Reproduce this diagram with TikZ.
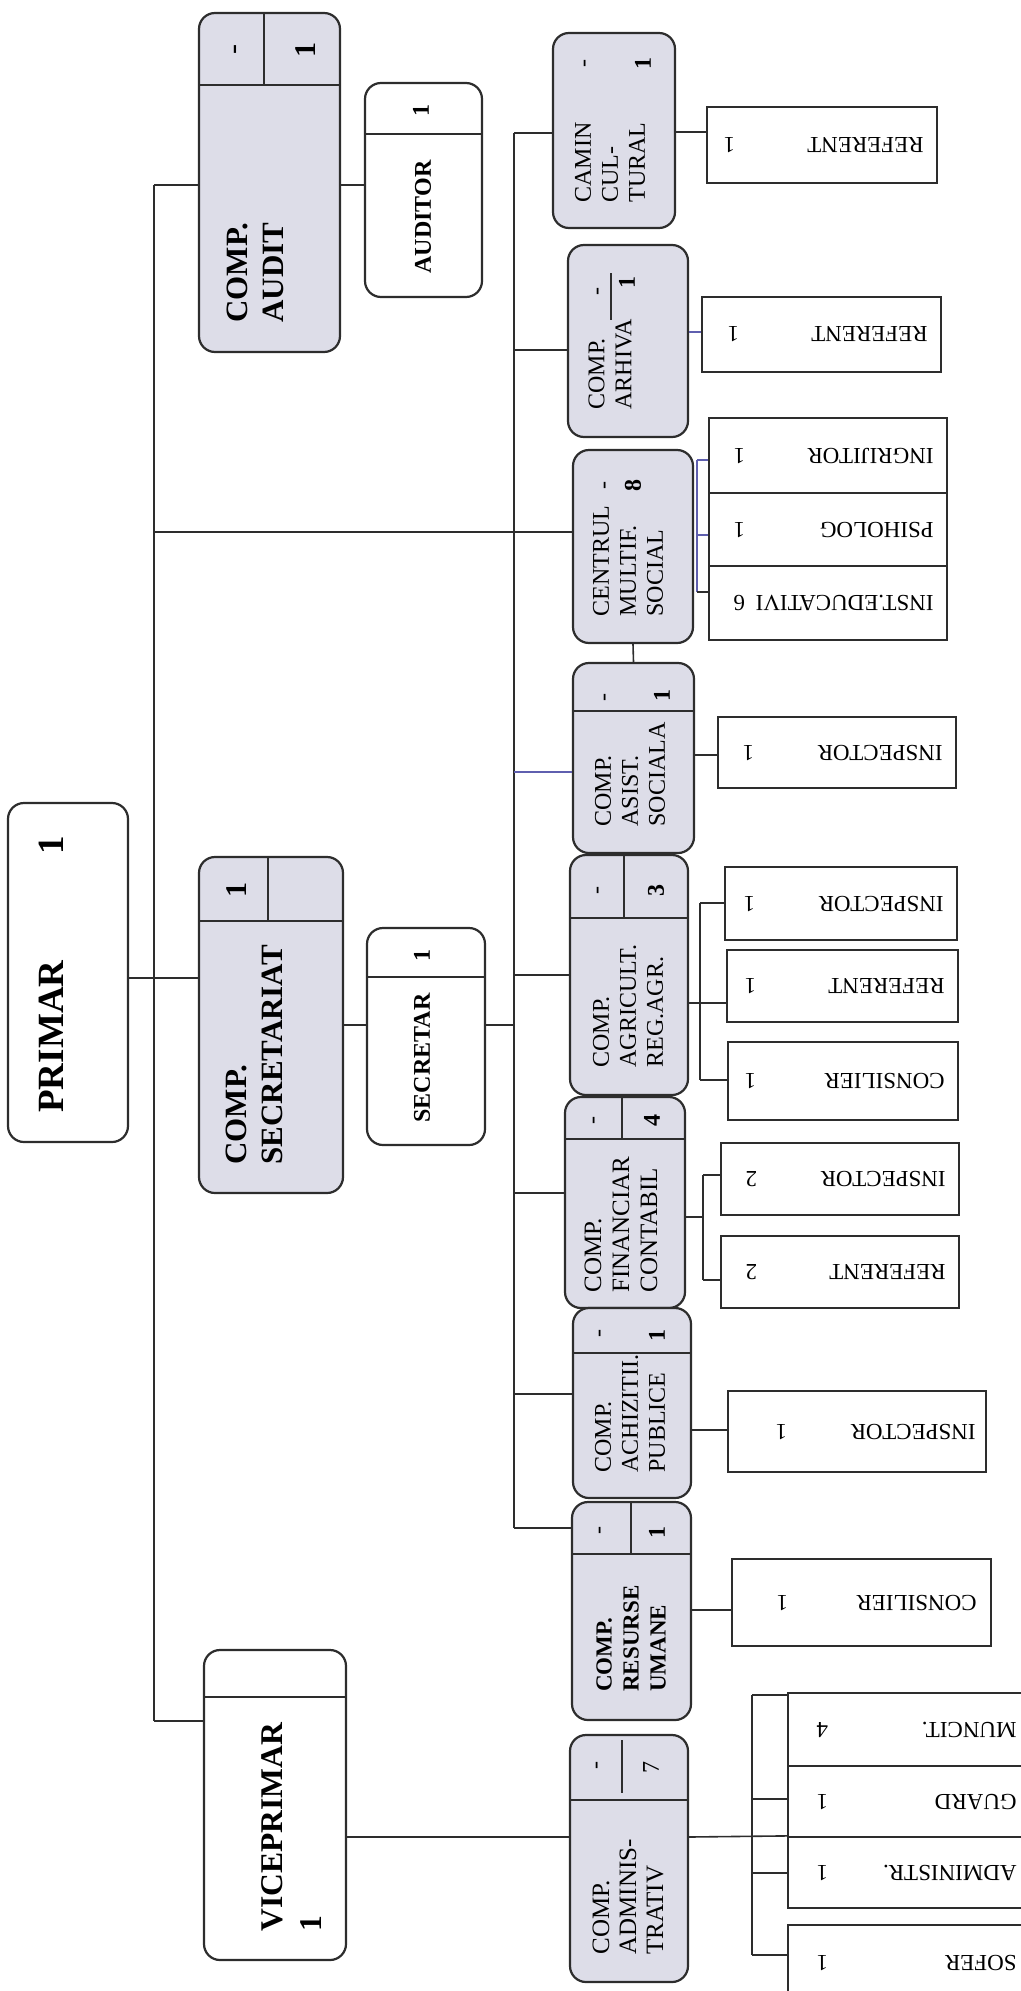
\documentclass[tikz,border=0pt]{standalone}
\usepackage{fontspec}
\setmainfont{Liberation Serif}
\usetikzlibrary{fit}
\definecolor{boxgrey}{RGB}{221,221,232}
\definecolor{linegrey}{RGB}{45,45,45}
\definecolor{linkblue}{RGB}{95,95,175}

\begin{document}
\begin{tikzpicture}[x=0.5pt, y=-0.5pt]
\tikzset{deptbox/.style = {draw=linegrey, line width=1.1pt, rounded corners=8pt, fill=boxgrey, inner sep=0pt}}
\tikzset{postbox/.style = {deptbox, fill=white}}
\tikzset{leafbox/.style = {draw=linegrey, line width=1.1pt, fill=white, inner sep=0pt}}
\tikzset{link/.style = {draw=linegrey, line width=0.8pt}}
\tikzset{bluelink/.style = {draw=linkblue, line width=0.8pt}}
\tikzset{headtext/.style = {rotate=90, anchor=west, align=left, inner sep=0pt, font=\bfseries\fontsize{15.5}{18}\selectfont}}
\tikzset{posttext/.style = {rotate=90, inner sep=0pt, font=\bfseries\fontsize{12}{14}\selectfont}}
\tikzset{depttext/.style = {rotate=90, anchor=west, align=left, inner sep=0pt, font=\fontsize{12}{13.5}\selectfont}}
\tikzset{headnum/.style = {rotate=90, inner sep=0pt, font=\bfseries\fontsize{15}{18}\selectfont}}
\tikzset{cellnum/.style = {rotate=90, inner sep=0pt, font=\bfseries\fontsize{12}{14}\selectfont}}
\tikzset{leaftext/.style = {rotate=180, anchor=west, inner sep=0pt, font=\fontsize{11.5}{13}\selectfont}}

\useasboundingbox (0,0) rectangle (1021,1991);
\clip (0,0) rectangle (1021,1991);

% top level
\node[postbox, fit={(8,803) (128,1142)}] (primar) {};
\node[posttext, anchor=west, font=\bfseries\fontsize{18.5}{22}\selectfont] (primar-t) at (51,1113) {PRIMAR\hspace{53pt}1};

\node[deptbox, fit={(199,13) (340,352)}] (audit) {};
\draw[link] (199,85) -- (340,85);
\draw[link] (264,13) -- (264,85);
\node[headnum, font=\fontsize{15}{18}\selectfont] (audit-n1) at (238,50) {-};
\node[headnum] (audit-n2) at (306,50) {1};
\node[headtext] (audit-t) at (255,323) {COMP.\\AUDIT};

\node[postbox, fit={(365,83) (482,297)}] (auditor) {};
\draw[link] (365,134) -- (482,134);
\node[posttext] (auditor-n) at (421,111) {1};
\node[posttext] (auditor-t) at (423,217) {AUDITOR};

\node[deptbox, fit={(199,857) (343,1193)}] (secretariat) {};
\draw[link] (199,921) -- (343,921);
\draw[link] (268,857) -- (268,921);
\node[headnum] (secretariat-n) at (237,890) {1};
\node[headtext] (secretariat-t) at (254,1165) {COMP.\\SECRETARIAT};

\node[postbox, fit={(367,928) (485,1145)}] (secretar) {};
\draw[link] (367,977) -- (485,977);
\node[posttext] (secretar-n) at (422,955) {1};
\node[posttext] (secretar-t) at (422,1058) {SECRETAR};

\node[postbox, fit={(204,1650) (346,1960)}] (viceprimar) {};
\draw[link] (204,1697) -- (346,1697);
\node[headtext, font=\bfseries\fontsize{15.8}{19.5}\selectfont] (viceprimar-t) at (292,1932) {VICEPRIMAR\\1};

% compartimente
\node[deptbox, fit={(553,33) (675,228)}] (camin) {};
\node[cellnum, font=\fontsize{12}{14}\selectfont] (camin-n1) at (587,64) {-};
\node[cellnum] (camin-n2) at (643,64) {1};
\node[depttext] (camin-t) at (610,203) {CAMIN\\CUL-\\TURAL};

\node[deptbox, fit={(568,245) (688,437)}] (arhiva) {};
\draw[link] (611,273) -- (611,320);
\node[cellnum, font=\fontsize{12}{14}\selectfont] (arhiva-n1) at (600,292) {-};
\node[cellnum] (arhiva-n2) at (627,282) {1};
\node[depttext] (arhiva-t) at (610,410) {COMP.\\ARHIVA};

\node[deptbox, fit={(573,450) (693,643)}] (centrul) {};
\node[cellnum, font=\fontsize{12}{14}\selectfont] (centrul-n1) at (607,485) {-};
\node[cellnum] (centrul-n2) at (633,485) {8};
\node[depttext] (centrul-t) at (628,617) {CENTRUL\\MULTIF.\\SOCIAL};

\node[deptbox, fit={(573,663) (694,853)}] (asist) {};
\draw[link] (573,711) -- (694,711);
\node[cellnum, font=\fontsize{12}{14}\selectfont] (asist-n1) at (607,697) {-};
\node[cellnum] (asist-n2) at (662,695) {1};
\node[depttext] (asist-t) at (630,827) {COMP.\\ASIST.\\SOCIALA};

\node[deptbox, fit={(570,855) (688,1095)}] (agr) {};
\draw[link] (570,918) -- (688,918);
\draw[link] (624,855) -- (624,918);
\node[cellnum, font=\fontsize{12}{14}\selectfont] (agr-n1) at (600,890) {-};
\node[cellnum] (agr-n2) at (656,890) {3};
\node[depttext] (agr-t) at (628,1068) {COMP.\\AGRICULT.\\REG.AGR.};

\node[deptbox, fit={(565,1097) (685,1308)}] (fin) {};
\draw[link] (565,1139) -- (685,1139);
\draw[link] (622,1097) -- (622,1139);
\node[cellnum, font=\fontsize{12}{14}\selectfont] (fin-n1) at (596,1120) {-};
\node[cellnum] (fin-n2) at (652,1120) {4};
\node[depttext, font=\fontsize{12.5}{14}\selectfont] (fin-t) at (621,1293) {COMP.\\FINANCIAR\\CONTABIL};

\node[deptbox, fit={(573,1308) (691,1498)}] (achiz) {};
\draw[link] (573,1353) -- (691,1353);
\node[cellnum, font=\fontsize{12}{14}\selectfont] (achiz-n1) at (602,1333) {-};
\node[cellnum] (achiz-n2) at (657,1335) {1};
\node[depttext] (achiz-t) at (630,1473) {COMP.\\ACHIZITII.\\PUBLICE};

\node[deptbox, fit={(572,1502) (691,1720)}] (resurse) {};
\draw[link] (572,1554) -- (691,1554);
\draw[link] (631,1502) -- (631,1554);
\node[cellnum, font=\fontsize{12}{14}\selectfont] (resurse-n1) at (602,1530) {-};
\node[cellnum] (resurse-n2) at (657,1532) {1};
\node[depttext, font=\bfseries\fontsize{11.5}{13.5}\selectfont] (resurse-t) at (631,1692) {COMP.\\RESURSE\\UMANE};

\node[deptbox, fit={(570,1735) (688,1982)}] (admin) {};
\draw[link] (570,1800) -- (688,1800);
\draw[link] (622,1740) -- (622,1793);
\node[cellnum, font=\fontsize{12}{14}\selectfont] (admin-n1) at (599,1765) {-};
\node[cellnum, font=\fontsize{12}{14}\selectfont] (admin-n2) at (651,1767) {7};
\node[depttext, font=\fontsize{12.5}{13.5}\selectfont] (admin-t) at (628,1955) {COMP.\\ADMINIS-\\TRATIV};

% posturi
\node[leafbox, fit={(707,107) (937,183)}] (l-ref1) {};
\node[leaftext] (l-ref1-t) at (924,145) {\hbox to 100pt{REFERENT\hfill 1}};
\node[leafbox, fit={(702,297) (941,372)}] (l-ref2) {};
\node[leaftext] (l-ref2-t) at (928,334.5) {\hbox to 100pt{REFERENT\hfill 1}};
\node[leafbox, fit={(709,418) (947,493)}] (l-ingr) {};
\node[leaftext] (l-ingr-t) at (934,455.5) {\hbox to 100pt{INGRIJITOR\hfill 1}};
\node[leafbox, fit={(709,493) (947,566)}] (l-psih) {};
\node[leaftext] (l-psih-t) at (934,529.5) {\hbox to 100pt{PSIHOLOG\hfill 1}};
\node[leafbox, fit={(709,566) (947,640)}] (l-inst) {};
\node[leaftext] (l-inst-t) at (934,603) {\hbox to 100pt{INST.EDUCATIVI\hfill 6}};
\node[leafbox, fit={(718,717) (956,788)}] (l-insp1) {};
\node[leaftext] (l-insp1-t) at (943,752.5) {\hbox to 100pt{INSPECTOR\hfill 1}};
\node[leafbox, fit={(725,867) (957,940)}] (l-insp2) {};
\node[leaftext] (l-insp2-t) at (944,903.5) {\hbox to 100pt{INSPECTOR\hfill 1}};
\node[leafbox, fit={(727,950) (958,1022)}] (l-ref3) {};
\node[leaftext] (l-ref3-t) at (945,986) {\hbox to 100pt{REFERENT\hfill 1}};
\node[leafbox, fit={(728,1042) (958,1120)}] (l-cons1) {};
\node[leaftext] (l-cons1-t) at (945,1081) {\hbox to 100pt{CONSILIER\hfill 1}};
\node[leafbox, fit={(721,1143) (959,1215)}] (l-insp3) {};
\node[leaftext] (l-insp3-t) at (946,1179) {\hbox to 100pt{INSPECTOR\hfill 2}};
\node[leafbox, fit={(721,1236) (959,1308)}] (l-ref4) {};
\node[leaftext] (l-ref4-t) at (946,1272) {\hbox to 100pt{REFERENT\hfill 2}};
\node[leafbox, fit={(728,1391) (986,1472)}] (l-insp4) {};
\node[leaftext] (l-insp4-t) at (976,1431.5) {\hbox to 100pt{INSPECTOR\hfill 1}};
\node[leafbox, fit={(732,1559) (991,1646)}] (l-cons2) {};
\node[leaftext] (l-cons2-t) at (977,1602.5) {\hbox to 100pt{CONSILIER\hfill 1}};
\node[leafbox, fit={(788,1693) (1030,1766)}] (l-munc) {};
\node[leaftext] (l-munc-t) at (1017,1729.5) {\hbox to 100pt{MUNCIT.\hfill 4}};
\node[leafbox, fit={(788,1766) (1030,1837)}] (l-guard) {};
\node[leaftext] (l-guard-t) at (1017,1801.5) {\hbox to 100pt{GUARD\hfill 1}};
\node[leafbox, fit={(788,1837) (1030,1908)}] (l-adm) {};
\node[leaftext] (l-adm-t) at (1017,1872.5) {\hbox to 100pt{ADMINISTR.\hfill 1}};
\node[leafbox, fit={(788,1925) (1030,2000)}] (l-sofer) {};
\node[leaftext] (l-sofer-t) at (1017,1962.5) {\hbox to 100pt{SOFER\hfill 1}};

% trunchiuri
\coordinate (t1a) at (154,185);
\coordinate (t1b) at (154,1721);
\coordinate (t2a) at (514,133);
\coordinate (t2b) at (514,1528);

\draw[link] (t1a) -- (t1b);
\draw[link] (t1a) -- (t1a -| audit.west);
\draw[link] (t1a -| audit.east) -- (t1a -| auditor.west);
\draw[link] (t1a |- 0,532) -- (centrul.west |- 0,532);
\draw[link] (primar.east |- 0,978) -- (secretariat.west |- 0,978);
\draw[link] (t1b) -- (t1b -| viceprimar.west);
\draw[link] (secretariat.east |- 0,1025) -- (secretar.west |- 0,1025);
\draw[link] (secretar.east |- 0,1025) -- (t2a |- 0,1025);
\draw[link] (viceprimar.east |- 0,1837) -- (admin.west |- 0,1837);

\draw[link] (t2a) -- (t2b);
\draw[link] (t2a) -- (t2a -| camin.west);
\draw[link] (t2a |- 0,350) -- (arhiva.west |- 0,350);
\draw[bluelink] (t2a |- 0,772) -- (asist.west |- 0,772);
\draw[link] (t2a |- 0,975) -- (agr.west |- 0,975);
\draw[link] (t2a |- 0,1193) -- (fin.west |- 0,1193);
\draw[link] (t2a |- 0,1394) -- (achiz.west |- 0,1394);
\draw[link] (t2b) -- (t2b -| resurse.west);
\draw[link] (centrul.south) -- (asist.north);

% legaturi spre posturi
\draw[link] (camin.east |- 0,132) -- (l-ref1.west |- 0,132);
\draw[bluelink] (arhiva.east |- 0,332) -- (l-ref2.west |- 0,332);

\coordinate (cb1) at (697,460);
\coordinate (cb2) at (697,592);
\draw[bluelink] (cb1) -- (cb2);
\draw[bluelink] (cb1) -- (cb1 -| l-ingr.west);
\draw[bluelink] (cb1 |- 0,535) -- (l-psih.west |- 0,535);
\draw[link] (cb2) -- (cb2 -| l-inst.west);

\draw[link] (asist.east |- 0,755) -- (l-insp1.west |- 0,755);

\coordinate (ab1) at (700,903);
\coordinate (ab2) at (700,1080);
\draw[link] (ab1) -- (ab2);
\draw[link] (ab1) -- (ab1 -| l-insp2.west);
\draw[link] (agr.east |- 0,1003) -- (l-ref3.west |- 0,1003);
\draw[link] (ab2) -- (ab2 -| l-cons1.west);

\coordinate (fb1) at (703,1175);
\coordinate (fb2) at (703,1280);
\draw[link] (fb1) -- (fb2);
\draw[link] (fin.east |- 0,1217) -- (fb1 |- 0,1217);
\draw[link] (fb1) -- (fb1 -| l-insp3.west);
\draw[link] (fb2) -- (fb2 -| l-ref4.west);

\draw[link] (achiz.east |- 0,1430) -- (l-insp4.west |- 0,1430);
\draw[link] (resurse.east |- 0,1610) -- (l-cons2.west |- 0,1610);

\coordinate (db1) at (752,1695);
\coordinate (db2) at (752,1955);
\draw[link] (db1) -- (db2);
\draw[link] (db1) -- (db1 -| l-munc.west);
\draw[link] (db1 |- 0,1799) -- (l-guard.west |- 0,1799);
\draw[link] (admin.east |- 0,1837) -- (l-adm.north west);
\draw[link] (db1 |- 0,1873) -- (l-adm.west |- 0,1873);
\draw[link] (db2) -- (db2 -| l-sofer.west);

\end{tikzpicture}
\end{document}
